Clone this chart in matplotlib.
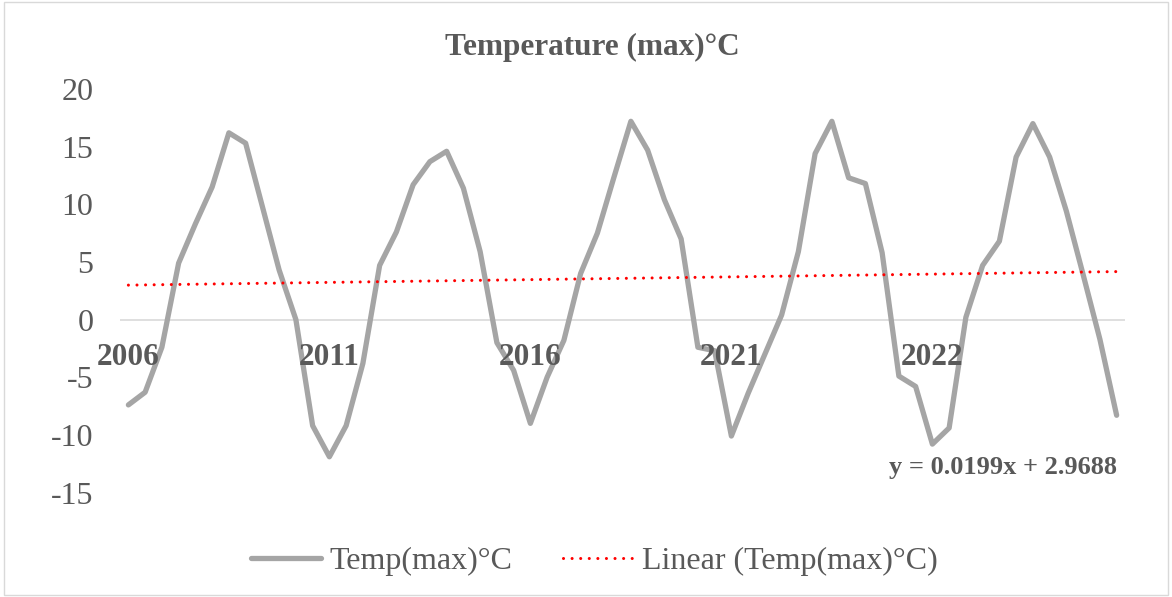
import matplotlib.pyplot as plt
from matplotlib.patches import Rectangle

# monthly max temperature, 60 points
temp_max = [-7.4, -6.3, -2.4, 4.9, 8.3, 11.5, 16.2, 15.3, 9.8, 4.3,
            0.0, -9.2, -11.9, -9.2, -3.8, 4.7, 7.6, 11.7, 13.7, 14.6,
            11.4, 5.9, -2.0, -4.4, -9.0, -5.0, -1.8, 4.0, 7.5, 12.4,
            17.2, 14.7, 10.4, 7.0, -2.4, -2.7, -10.1, -6.4, -3.0, 0.4,
            5.9, 14.4, 17.2, 12.3, 11.8, 5.8, -4.9, -5.8, -10.8, -9.4,
            0.2, 4.7, 6.8, 14.1, 17.0, 14.1, 9.4, 3.9, -1.7, -8.3]
year_labels = ["2006", "2011", "2016", "2021", "2022"]
label_pos = [1, 13, 25, 37, 49]
slope = 0.0199
intercept = 2.9688

idx = list(range(1, len(temp_max) + 1))
trend = [slope * i + intercept for i in idx]

txt = "#595959"
plt.rcParams['font.family'] = ['Liberation Serif', 'DejaVu Serif']
plt.rcParams['axes.unicode_minus'] = False

fig = plt.figure(figsize=(11.72, 5.97), dpi=100)
ax = fig.add_axes([0.1024, 0.175, 0.8575, 0.6759])

ax.plot(idx, temp_max, color="#A5A5A5", lw=3.8, solid_joinstyle="round",
        solid_capstyle="round", label="Temp(max)°C", zorder=3)
ax.plot(idx, trend, color="#FF0000", lw=2.2, linestyle=(0, (0.01, 2.8)),
        dash_capstyle="round", label="Linear (Temp(max)°C)", zorder=4)

ax.set_xlim(0.5, len(temp_max) + 0.5)
ax.set_ylim(-15, 20)
ax.set_yticks(range(-15, 21, 5))
ax.tick_params(axis="y", length=0, labelsize=23, labelcolor=txt, pad=19)
ax.set_xticks([])
for s in ax.spines.values():
    s.set_visible(False)
ax.axhline(0, color="#D9D9D9", lw=1.2, zorder=1)

for p, lab in zip(label_pos, year_labels):
    ax.text(p, -3.3, lab, ha="center", va="center", fontsize=22.5,
            fontweight="bold", color=txt, zorder=5)

ax.text(len(temp_max), -12.85, "y = 0.0199x + 2.9688", ha="right",
        va="center", fontsize=19, fontweight="bold", color=txt)

fig.text(0.505, 0.921, "Temperature (max)°C", ha="center", va="center",
         fontsize=22.5, fontweight="bold", color=txt)

leg = fig.legend(loc="center", bbox_to_anchor=(0.507, 0.06), ncol=2,
                 frameon=False, fontsize=23, labelcolor=txt,
                 handlelength=2.2, columnspacing=1.6, handletextpad=0.25)

fig.patches.append(Rectangle((0.003, 0.003), 0.994, 0.994, transform=fig.transFigure,
                             fill=False, edgecolor="#D9D9D9", lw=1))

fig.savefig("out.png", dpi=100)
